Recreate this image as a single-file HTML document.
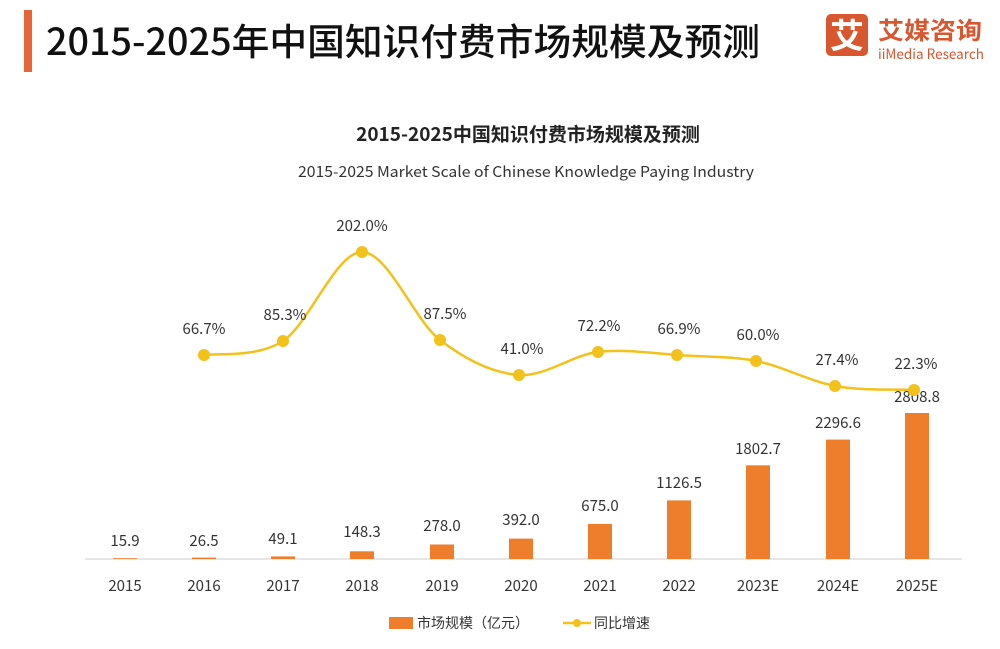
<!DOCTYPE html>
<html><head><meta charset="utf-8"><style>
body{margin:0;background:#fff;}
svg{display:block;font-family:"Noto Sans CJK SC","Liberation Sans",sans-serif;}
</style></head><body>
<svg width="1000" height="649" viewBox="0 0 1000 649" xmlns="http://www.w3.org/2000/svg">
<rect width="1000" height="649" fill="#fff"/>
<rect x="24" y="10" width="8" height="62" fill="#e8653a"/>
<text x="46" y="55" font-size="37" fill="#111" font-weight="500" textLength="714" lengthAdjust="spacingAndGlyphs">2015-2025年中国知识付费市场规模及预测</text>
<rect x="826" y="14" width="42" height="42" rx="5" fill="#d9572f"/>
<text x="847" y="48" font-size="34" fill="#fff" text-anchor="middle" font-weight="bold">艾</text>
<text x="878" y="39" font-size="24" fill="#d9572f" font-weight="bold" textLength="104" lengthAdjust="spacingAndGlyphs">艾媒咨询</text>
<text x="878" y="59" font-size="14" fill="#d9572f" textLength="106" lengthAdjust="spacingAndGlyphs">iiMedia Research</text>
<text x="528" y="141" font-size="19" fill="#222" font-weight="bold" text-anchor="middle">2015-2025中国知识付费市场规模及预测</text>
<text x="526" y="177" font-size="15" fill="#333" text-anchor="middle" textLength="456" lengthAdjust="spacingAndGlyphs">2015-2025 Market Scale of Chinese Knowledge Paying Industry</text>
<line x1="85" y1="559" x2="962" y2="559" stroke="#d6d6d6" stroke-width="1.2"/>
<g fill="#ee7d2c">
<rect x="113" y="558.2" width="24" height="0.8"/>
<rect x="192" y="557.6" width="24" height="1.4"/>
<rect x="271" y="556.4" width="24" height="2.6"/>
<rect x="350" y="551.3" width="24" height="7.7"/>
<rect x="430" y="544.5" width="24" height="14.5"/>
<rect x="509" y="538.6" width="24" height="20.4"/>
<rect x="588" y="523.9" width="24" height="35.1"/>
<rect x="667" y="500.4" width="24" height="58.6"/>
<rect x="746" y="465.3" width="24" height="93.7"/>
<rect x="826" y="439.6" width="24" height="119.4"/>
<rect x="905" y="413" width="24" height="146"/>
</g>
<g font-size="15" fill="#333" text-anchor="middle">
<text x="125" y="546">15.9</text><text x="204" y="546">26.5</text><text x="283" y="544">49.1</text>
<text x="362" y="537">148.3</text><text x="442" y="531">278.0</text><text x="521" y="525">392.0</text>
<text x="600" y="511">675.0</text><text x="679" y="488">1126.5</text><text x="758" y="454">1802.7</text>
<text x="838" y="428">2296.6</text><text x="917" y="402">2808.8</text>
</g>
<g font-size="15" fill="#333" text-anchor="middle">
<text x="125" y="591">2015</text><text x="204" y="591">2016</text><text x="283" y="591">2017</text>
<text x="362" y="591">2018</text><text x="442" y="591">2019</text><text x="521" y="591">2020</text>
<text x="600" y="591">2021</text><text x="679" y="591">2022</text><text x="758" y="591">2023E</text>
<text x="838" y="591">2024E</text><text x="917" y="591">2025E</text>
</g>
<path d="M204,355 C217,353 257,358 283,341 C309,324 336,252 362,252 C388,252 414,320 440,340 C466,360 493,373 519,375 C545,377 572,355 598,352 C624,349 651,353 677,355 C703,357 730,356 756,361 C782,366 809,381 835,386 C861,391 901,389 914,390" fill="none" stroke="#f2c11a" stroke-width="2.5"/>
<g fill="#f2c11a">
<circle cx="204" cy="355" r="6"/><circle cx="283" cy="341" r="6"/><circle cx="362" cy="252" r="6"/>
<circle cx="440" cy="340" r="6"/><circle cx="519" cy="375" r="6"/><circle cx="598" cy="352" r="6"/>
<circle cx="677" cy="355" r="6"/><circle cx="756" cy="361" r="6"/><circle cx="835" cy="386" r="6"/>
<circle cx="914" cy="390" r="6"/>
</g>
<g font-size="15" fill="#333" text-anchor="middle">
<text x="204" y="334">66.7%</text><text x="285" y="320">85.3%</text><text x="362" y="231">202.0%</text>
<text x="445" y="319">87.5%</text><text x="522" y="354">41.0%</text><text x="599" y="331">72.2%</text>
<text x="679" y="334">66.9%</text><text x="758" y="340">60.0%</text><text x="837" y="365">27.4%</text>
<text x="916" y="369">22.3%</text>
</g>
<rect x="389" y="617" width="24" height="12" fill="#ee7d2c"/>
<text x="417" y="628" font-size="14" fill="#333">市场规模（亿元）</text>
<line x1="563" y1="623" x2="591" y2="623" stroke="#f2c11a" stroke-width="2.5"/>
<circle cx="577" cy="623" r="4" fill="#f2c11a"/>
<text x="594" y="628" font-size="14" fill="#333">同比增速</text>
</svg>
</body></html>
